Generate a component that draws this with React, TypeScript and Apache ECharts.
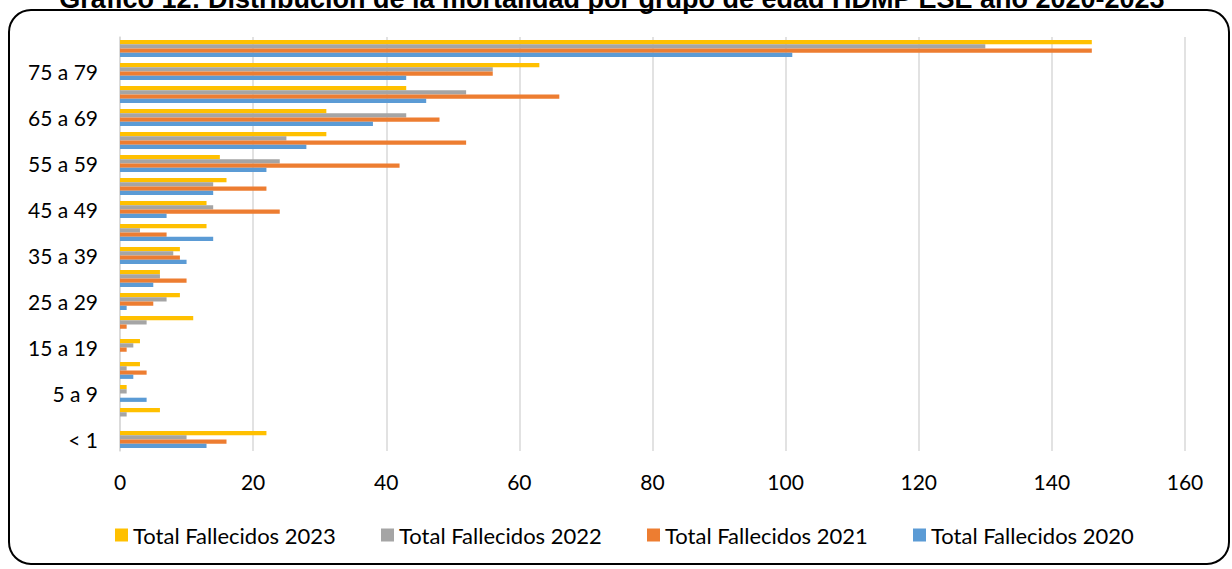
import React, { useEffect, useRef } from "react";
import * as echarts from "echarts";

// Age groups, bottom to top
const categories = [
  "< 1", "1 a 4", "5 a 9", "10 a 14", "15 a 19", "20 a 24", "25 a 29", "30 a 34", "35 a 39",
  "40 a 44", "45 a 49", "50 a 54", "55 a 59", "60 a 64", "65 a 69", "70 a 74", "75 a 79", "80 y más",
];

const deaths2023 = [22, 6, 1, 3, 3, 11, 9, 6, 9, 13, 13, 16, 15, 31, 31, 43, 63, 146];
const deaths2022 = [10, 1, 1, 1, 2, 4, 7, 6, 8, 3, 14, 14, 24, 25, 43, 52, 56, 130];
const deaths2021 = [16, 0, 0, 4, 1, 1, 5, 10, 9, 7, 24, 22, 42, 52, 48, 66, 56, 146];
const deaths2020 = [13, 0, 4, 2, 0, 0, 1, 5, 10, 14, 7, 14, 22, 28, 38, 46, 43, 101];

const seriesNames = [
  "Total Fallecidos 2023",
  "Total Fallecidos 2022",
  "Total Fallecidos 2021",
  "Total Fallecidos 2020",
];
const seriesData = [deaths2023, deaths2022, deaths2021, deaths2020];
const colors = ["#FFC000", "#A5A5A5", "#ED7D31", "#5B9BD5"];
const legendLefts = [115, 381, 647, 913];

const titleText =
  "Gráfico 12: Distribución de la mortalidad por grupo de edad HDMP ESE año 2020-2023";

const FONT = "Lato, 'Open Sans', sans-serif";

export default function App() {
  const ref = useRef<HTMLDivElement>(null);

  useEffect(() => {
    if (!ref.current) return;
    const chart = echarts.init(ref.current, undefined, { renderer: "svg" });

    chart.setOption({
      animation: false,
      backgroundColor: "#ffffff",
      textStyle: { fontFamily: FONT },
      grid: { left: 120, right: 47, top: 37, bottom: 118, containLabel: false },
      xAxis: {
        type: "value",
        min: 0,
        max: 160,
        interval: 20,
        axisLine: { show: false },
        axisTick: { show: false },
        splitLine: { show: true, lineStyle: { color: "#D9D9D9", width: 1.5 } },
        axisLabel: { color: "#000", fontSize: 21, fontFamily: FONT, margin: 20 },
      },
      yAxis: {
        type: "category",
        data: categories,
        axisLine: { show: true, lineStyle: { color: "#D9D9D9", width: 1.5 } },
        axisTick: { show: false },
        axisLabel: { color: "#000", fontSize: 21, fontFamily: FONT, interval: 1, margin: 22 },
      },
      legend: seriesNames.map((name, i) => ({
        data: [name],
        left: legendLefts[i],
        top: 524,
        itemWidth: 13,
        itemHeight: 13,
        itemGap: 5,
        icon: "rect",
        textStyle: { color: "#000", fontSize: 22, fontFamily: FONT, padding: [0, 0, 0, 0] },
        padding: 0,
      })),
      series: seriesNames.map((name, i) => ({
        name,
        type: "bar",
        data: seriesData[i],
        itemStyle: { color: colors[i] },
        barGap: "0%",
        barCategoryGap: "27%",
      })),
      graphic: [
        {
          type: "rect",
          shape: { x: 9, y: 10, width: 1220, height: 554, r: 22 },
          style: { fill: "none", stroke: "#000", lineWidth: 2 },
          z: 10,
        },
        {
          type: "text",
          x: 612,
          y: 12,
          style: {
            text: titleText,
            font: "bold 27px 'Liberation Sans', Arial, sans-serif",
            fill: "#000",
            textAlign: "center",
            textVerticalAlign: "bottom",
          },
          z: 10,
        },
      ],
    });

    return () => chart.dispose();
  }, []);

  return (
    <div
      ref={ref}
      style={{ position: "absolute", left: 0, top: 0, width: 1232, height: 569 }}
    />
  );
}
